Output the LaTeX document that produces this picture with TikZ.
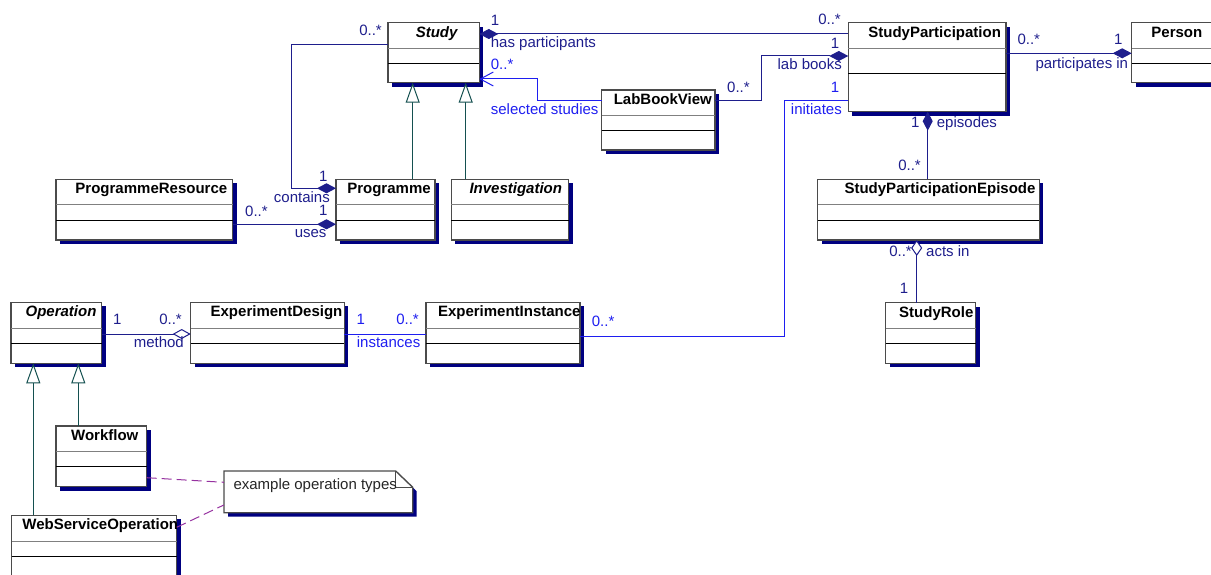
\documentclass[tikz,border=0pt]{standalone}
\usepackage{fontspec}
\setmainfont{Liberation Sans}
\usetikzlibrary{arrows.meta, calc, fit, shadows}

\definecolor{assocnavy}{RGB}{30,30,140}
\definecolor{assocblue}{RGB}{30,30,240}
\definecolor{shadownavy}{RGB}{0,0,128}
\definecolor{genteal}{RGB}{20,80,80}
\definecolor{notepurple}{RGB}{150,50,160}
\definecolor{boxgray}{RGB}{75,75,75}

\tikzset{
    classbox/.style={draw=boxgray, line width=1.4pt, fill=white, inner sep=0pt, outer sep=0pt,
        drop shadow={shadow xshift=4pt, shadow yshift=-4pt, fill=shadownavy, opacity=1}},
    classname/.style={font=\fontsize{15}{18}\selectfont\bfseries, anchor=base, inner sep=0pt},
    compline/.style={line width=1pt},
    assoc/.style={draw=assocnavy, line width=1pt},
    assocb/.style={draw=assocblue, line width=1pt},
    role/.style={font=\fontsize{15}{18}\selectfont, text=assocnavy, inner sep=0pt},
    roleb/.style={role, text=assocblue},
    gen/.style={draw=genteal, line width=1pt, -{Triangle[open, length=20pt, width=14pt, fill=white]}},
    comp/.style={-{Diamond[length=19pt, width=10pt]}},
    compstart/.style={{Diamond[length=19pt, width=10pt]}-},
    aggr/.style={-{Diamond[open, length=18pt, width=10pt, fill=white]}},
    aggrstart/.style={{Diamond[open, length=16pt, width=11pt, fill=white]}-},
    notelink/.style={draw=notepurple, line width=1pt, dash pattern=on 10pt off 5pt}
}

% #1 second line, #2 name, #3 top left, #4 bottom right, #5 title shift, #6 title
\newcommand{\umlclass}[6][40.7]{%
    \node[classbox, fit={#3 #4}] (#2) {};
    \draw[compline, draw=gray] ($(#2.north west)+(0,25.7)$) -- ($(#2.north east)+(0,25.7)$);
    \draw[compline] ($(#2.north west)+(0,#1)$) -- ($(#2.north east)+(0,#1)$);
    \node[classname, xshift=#5pt, yshift=-14.5pt] (#2-name) at (#2.north) {#6};
}

\begin{document}
\begin{tikzpicture}[x=1pt, y=-1pt]
    \useasboundingbox (0,0) rectangle (1211,575);

    \umlclass{study}{(388,22.7)}{(479.3,82.7)}{3}{\itshape Study}
    \umlclass{programme}{(336,179.3)}{(435,240)}{3.5}{Programme}
    \umlclass{investigation}{(451.3,179.3)}{(568.7,240)}{5.8}{\itshape Investigation}
    \umlclass{progresource}{(56,179.3)}{(232.7,240)}{7}{ProgrammeResource}
    \umlclass{labbook}{(601.7,90)}{(715,150)}{4.5}{LabBookView}
    \umlclass[51.3]{studypart}{(848.3,22.7)}{(1006,111.7)}{7.5}{StudyParticipation}
    \umlclass{person}{(1131.7,22.7)}{(1216,82.7)}{3}{Person}
    \umlclass{episode}{(817.7,179.3)}{(1039.3,240)}{11.5}{StudyParticipationEpisode}
    \umlclass{studyrole}{(885.7,302.7)}{(975.7,363.3)}{5.6}{StudyRole}
    \umlclass{operation}{(11,302.3)}{(101.7,363.3)}{4.7}{\itshape Operation}
    \umlclass{design}{(190.7,302.3)}{(344.3,363.3)}{9}{ExperimentDesign}
    \umlclass{instance}{(426,302.3)}{(580,363.3)}{6.3}{ExperimentInstance}
    \umlclass{workflow}{(56,426)}{(146.7,486.7)}{3.4}{Workflow}
    \umlclass{wso}{(11.7,515.3)}{(176.7,575.3)}{6.1}{WebServiceOperation}

    \draw [gen] (programme.north -| 412.7,0) -- (study.south -| 412.7,0);
    \draw [gen] (investigation.north -| 465.7,0) -- (study.south -| 465.7,0);
    \draw [gen] (workflow.north -| 78.3,0) -- (operation.south -| 78.3,0);
    \draw [gen] (wso.north -| 33.3,0) -- (operation.south -| 33.3,0);

    \draw [assoc, comp] (study.west |- 0,45) -| (291.7,188.3) -- (programme.west |- 0,188.3);
    \draw [assoc, comp] (progresource.east |- 0,224.3) -- (programme.west |- 0,224.3);
    \draw [assoc, compstart] (study.east |- 0,34) -- (studypart.west |- 0,34);
    \draw [assocb, -{Straight Barb[length=13pt, width=14pt]}] (labbook.west |- 0,100.7) -| (537.7,79) -- (study.east |- 0,79);
    \draw [assoc, comp] (labbook.east |- 0,100.7) -| (761.7,56) -- (studypart.west |- 0,56);
    \draw [assocb] (studypart.west |- 0,100.7) -| (784.3,336.7) -- (instance.east |- 0,336.7);
    \draw [assoc, comp] (studypart.east |- 0,53.3) -- (person.west |- 0,53.3);
    \draw [assoc, compstart] (studypart.south -| 927.7,0) -- (episode.north -| 927.7,0);
    \draw [assoc, aggrstart] (episode.south -| 916.7,0) -- (studyrole.north -| 916.7,0);
    \draw [assoc, aggr] (operation.east |- 0,334) -- (design.west |- 0,334);
    \draw [assocb] (design.east |- 0,334) -- (instance.west |- 0,334);

    \node [role, anchor=base east] (contains-many) at (382,36) {0..*};
    \node [role, anchor=base] (contains-one) at (323.3,181.7) {1};
    \node [role, anchor=base east] (contains-name) at (330,202.6) {contains};
    \node [role, anchor=base] (uses-one) at (323.3,215.8) {1};
    \node [role, anchor=base east] (uses-name) at (326.7,237) {uses};
    \node [role, anchor=base west] (uses-many) at (245,216.7) {0..*};
    \node [role, anchor=base] (hp-one) at (495,25.5) {1};
    \node [role, anchor=base west] (hp-name) at (490.7,47.7) {has participants};
    \node [role, anchor=base east] (hp-many) at (841,25) {0..*};
    \node [roleb, anchor=base west] (sel-many) at (490.7,70) {0..*};
    \node [roleb, anchor=base west] (sel-name) at (490.7,115) {selected studies};
    \node [role, anchor=base] (lab-one) at (835,48.3) {1};
    \node [role, anchor=base east] (lab-name) at (842,70) {lab books};
    \node [role, anchor=base west] (lab-many) at (727,92.3) {0..*};
    \node [roleb, anchor=base] (init-one) at (835,92.3) {1};
    \node [roleb, anchor=base east] (init-name) at (842,115) {initiates};
    \node [roleb, anchor=base west] (init-many) at (591.7,326) {0..*};
    \node [role, anchor=base west] (part-many) at (1017.3,45) {0..*};
    \node [role, anchor=base] (part-one) at (1118.3,45) {1};
    \node [role, anchor=base east] (part-name) at (1128.3,68.3) {participates in};
    \node [role, anchor=base] (epi-one) at (915.3,128) {1};
    \node [role, anchor=base west] (epi-name) at (936.7,128) {episodes};
    \node [role, anchor=base east] (epi-many) at (921,170.7) {0..*};
    \node [role, anchor=base east] (acts-many) at (912,256.7) {0..*};
    \node [role, anchor=base west] (acts-name) at (926,256.7) {acts in};
    \node [role, anchor=base] (acts-one) at (904,293.3) {1};
    \node [role, anchor=base] (method-one) at (117.3,324.3) {1};
    \node [role, anchor=base east] (method-many) at (182,324.3) {0..*};
    \node [role, anchor=base east] (method-name) at (184,347.7) {method};
    \node [roleb, anchor=base] (inst-one) at (360.7,324.3) {1};
    \node [roleb, anchor=base east] (inst-many) at (419,324.3) {0..*};
    \node [roleb, anchor=base west] (inst-name) at (356.7,347.7) {instances};

    % note
    \fill [shadownavy] (228,475) -- (399.7,475) -- (416.7,491.3) -- (416.7,516.7) -- (228,516.7) -- cycle;
    \filldraw [draw=boxgray, fill=white, line width=1.4pt] (224,471) -- (395.7,471) -- (412.7,487.3) -- (412.7,512.7) -- (224,512.7) -- cycle;
    \draw [boxgray, line width=1pt] (395.7,471) |- (412.7,487.3);
    \node [inner sep=0pt, fit={(224,471) (412.7,512.7)}] (note) {};
    \node [anchor=base west, font=\fontsize{15}{18}\selectfont, text=black!85, inner sep=0pt] (note-text) at (233.3,489.3) {example operation types};
    \draw [notelink] (workflow.east |- 0,477.7) -- (note.west |- 0,482.3);
    \draw [notelink] (wso.east |- 0,527.3) -- (note.west |- 0,505);
\end{tikzpicture}
\end{document}
